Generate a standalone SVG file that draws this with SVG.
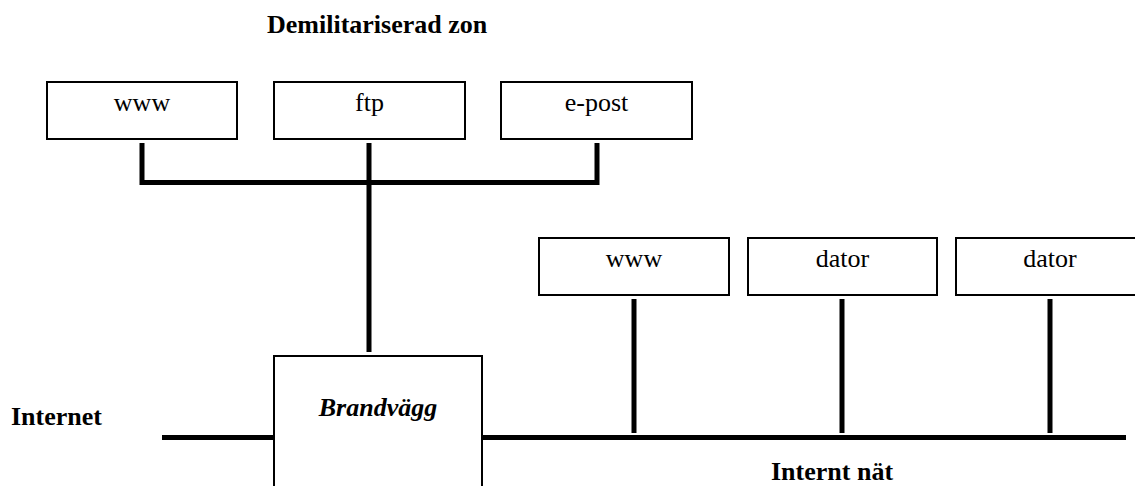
<svg xmlns="http://www.w3.org/2000/svg" width="1135" height="486" viewBox="0 0 1135 486">
  <style>
    .box { fill: #fff; stroke: #000; stroke-width: 2; }
    .lbl { font-family: "Liberation Serif", "Times New Roman", serif; font-size: 26px; fill: #000; text-anchor: middle; }
    .head { font-family: "Liberation Serif", "Times New Roman", serif; font-size: 26px; font-weight: bold; fill: #000; }
    .wire { fill: none; stroke: #000; stroke-width: 5; stroke-linejoin: miter; }
  </style>
  <rect width="1135" height="486" fill="#fff"/>

  <!-- headings -->
  <text class="head" x="267" y="33">Demilitariserad zon</text>
  <text class="head" x="11" y="425">Internet</text>
  <text class="head" x="771" y="480">Internt nät</text>

  <!-- connectors -->
  <g id="connectors">
    <path class="wire" d="M142 143 V182.5 H597 V143"/>
    <path class="wire" d="M369 143 V352"/>
    <path class="wire" d="M162 437.5 H274"/>
    <path class="wire" d="M482 437.5 H1126"/>
    <path class="wire" d="M634 299 V433"/>
    <path class="wire" d="M842 299 V433"/>
    <path class="wire" d="M1050 299 V433"/>
  </g>

  <!-- DMZ servers -->
  <g id="dmz-www">
    <rect class="box" x="47" y="82" width="190" height="57"/>
    <text class="lbl" x="142" y="111">www</text>
  </g>
  <g id="dmz-ftp">
    <rect class="box" x="274" y="82" width="191" height="57"/>
    <text class="lbl" x="369.5" y="111">ftp</text>
  </g>
  <g id="dmz-epost">
    <rect class="box" x="501" y="82" width="191" height="57"/>
    <text class="lbl" x="596.5" y="111">e-post</text>
  </g>

  <!-- internal hosts -->
  <g id="lan-www">
    <rect class="box" x="539" y="238" width="190" height="57"/>
    <text class="lbl" x="634" y="267">www</text>
  </g>
  <g id="lan-dator1">
    <rect class="box" x="748" y="238" width="189" height="57"/>
    <text class="lbl" x="842.5" y="267">dator</text>
  </g>
  <g id="lan-dator2">
    <rect class="box" x="956" y="238" width="190" height="57"/>
    <text class="lbl" x="1050" y="267">dator</text>
  </g>

  <!-- firewall -->
  <g id="firewall">
    <rect class="box" x="274" y="356" width="208" height="145"/>
    <text class="lbl" x="378" y="416" font-weight="bold" font-style="italic">Brandvägg</text>
  </g>
</svg>
